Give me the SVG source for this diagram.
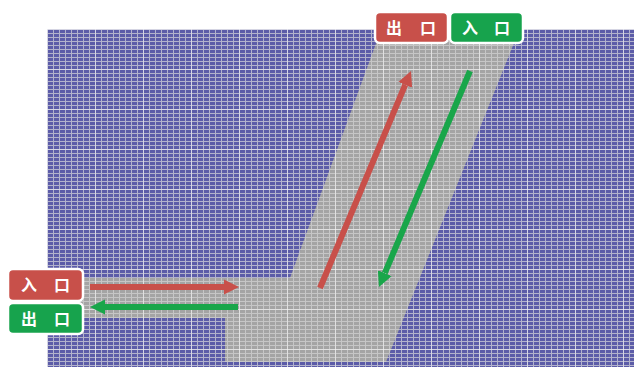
<svg xmlns="http://www.w3.org/2000/svg" width="634" height="371" viewBox="0 0 634 371">
  <defs>
    <pattern id="meshBlue" x="47" y="29" width="6" height="4" patternUnits="userSpaceOnUse">
      <rect width="6" height="4" fill="#b2b2cc"/>
      <rect x="1" y="1" width="5" height="3" fill="#5c5ca8"/>
    </pattern>
    <pattern id="meshGray" x="47" y="29" width="6" height="4" patternUnits="userSpaceOnUse">
      <rect width="6" height="4" fill="#c6c6c6"/>
      <rect x="1" y="1" width="5" height="3" fill="#a4a4a4"/>
    </pattern>
    <pattern id="meshLines" x="47" y="29" width="48" height="40" patternUnits="userSpaceOnUse">
      <rect x="0" y="0" width="1" height="40" fill="#ffffff" opacity="0.45"/>
      <rect x="0" y="0" width="48" height="1" fill="#ffffff" opacity="0.45"/>
    </pattern>
    <marker id="headRed" viewBox="0 0 10 10" refX="0" refY="5" markerWidth="2.5" markerHeight="2.7" orient="auto" markerUnits="strokeWidth">
      <path d="M0,0 L10,5 L0,10 z" fill="#c8504a"/>
    </marker>
    <marker id="headGreen" viewBox="0 0 10 10" refX="0" refY="5" markerWidth="2.5" markerHeight="2.7" orient="auto" markerUnits="strokeWidth">
      <path d="M0,0 L10,5 L0,10 z" fill="#19a64a"/>
    </marker>
  </defs>
  <style>
    .lbl { stroke: #ffffff; stroke-width: 2.5; }
    .red { fill: #c8504a; }
    .green { fill: #17a34d; }
    .txt { font-family: "Noto Sans CJK SC", "Noto Sans", sans-serif; font-size: 16px; font-weight: bold; fill: #ffffff; text-anchor: middle; }
    .arr { fill: none; stroke-width: 6; }
    .ar { stroke: #c8504a; }
    .ag { stroke: #19a64a; }
  </style>
  <rect width="634" height="371" fill="#ffffff"/>
  <g id="mesh">
    <rect x="47" y="29" width="587" height="338" fill="url(#meshBlue)"/>
    <polygon id="channel" points="47,278 290,278 378,38 516,38 386,362 225,362 225,318 47,318" fill="url(#meshGray)"/>
    <rect x="47" y="29" width="587" height="338" fill="url(#meshLines)"/>
  </g>
  <g id="connectors">
    <line class="arr ar" x1="90" y1="287" x2="224" y2="287" marker-end="url(#headRed)"/>
    <line class="arr ag" x1="238" y1="307" x2="105" y2="307" marker-end="url(#headGreen)"/>
    <line class="arr ar" x1="320" y1="288" x2="405.2" y2="84.8" marker-end="url(#headRed)"/>
    <line class="arr ag" x1="470" y1="71" x2="384.8" y2="273.2" marker-end="url(#headGreen)"/>
  </g>
  <g id="inlet-left">
    <rect class="lbl red" x="8" y="269" width="75" height="32" rx="5"/>
    <text class="txt" x="29 45.5 62" y="291">入 口</text>
  </g>
  <g id="outlet-left">
    <rect class="lbl green" x="8" y="303" width="75" height="31" rx="5"/>
    <text class="txt" x="29 45.5 62" y="324.5">出 口</text>
  </g>
  <g id="outlet-top">
    <rect class="lbl red" x="375" y="12" width="73" height="31" rx="5"/>
    <text class="txt" x="394 411 428" y="33.5">出 口</text>
  </g>
  <g id="inlet-top">
    <rect class="lbl green" x="450" y="12" width="73" height="31" rx="5"/>
    <text class="txt" x="470 486 502" y="33.5">入 口</text>
  </g>
</svg>
